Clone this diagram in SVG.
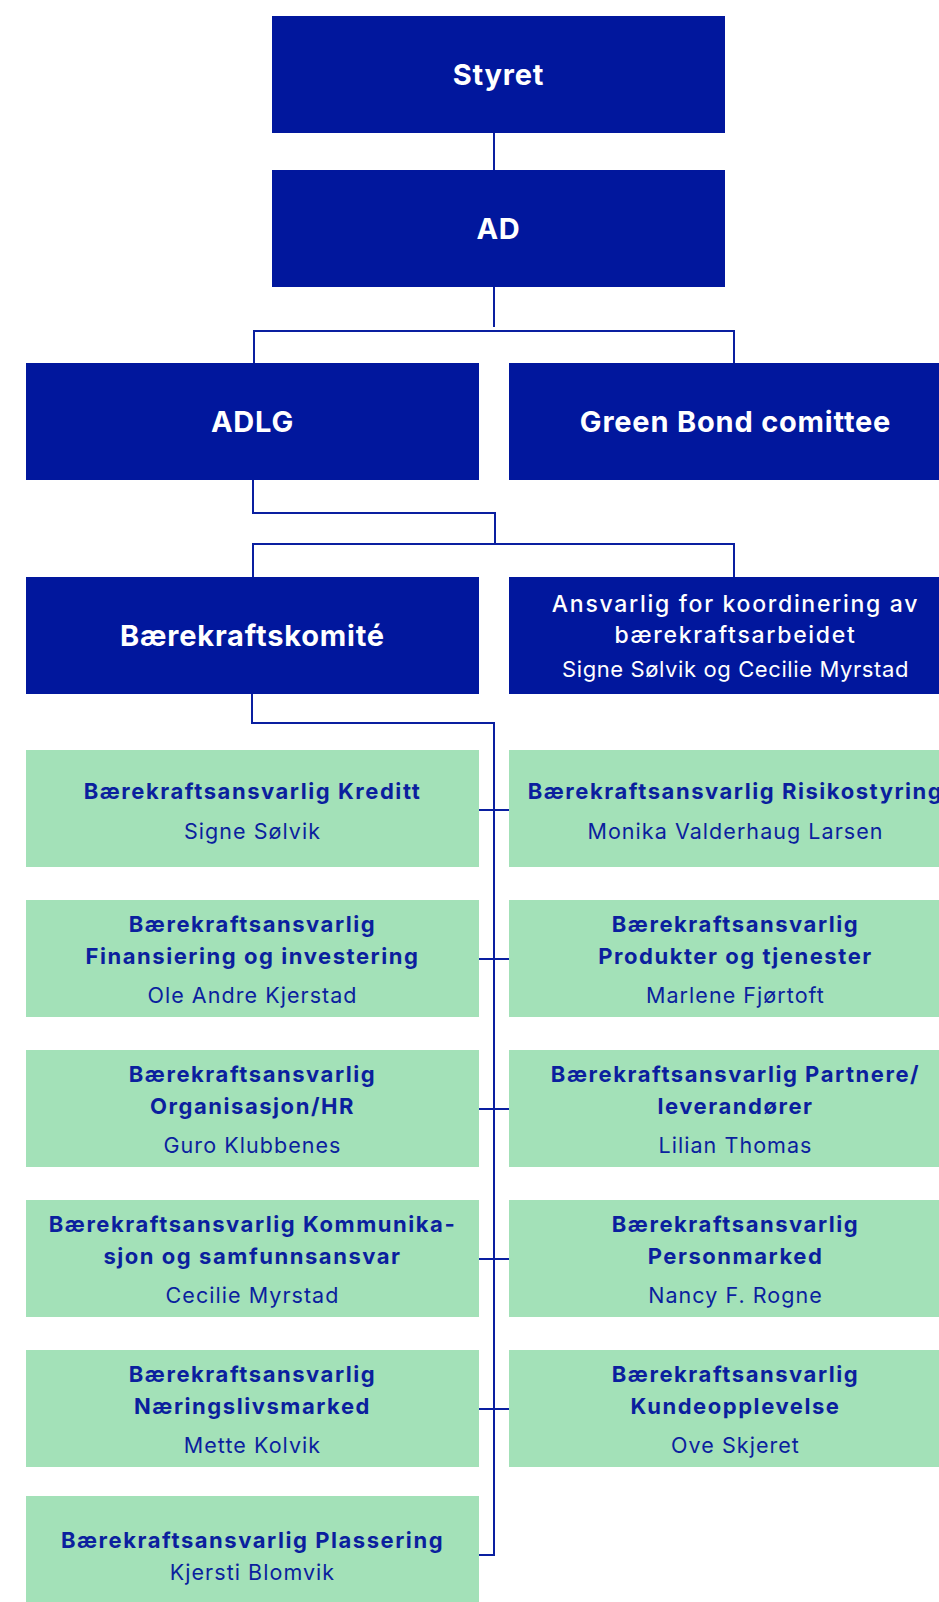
<svg xmlns="http://www.w3.org/2000/svg" width="939" height="1602" viewBox="0 0 939 1602">
<style>
.bb{fill:#01179d}
.gb{fill:#a3e1b8}
.ln{fill:none;stroke:#0a1fa0;stroke-width:2}
text{font-family:Inter,"Liberation Sans",sans-serif;text-anchor:middle}
.bt{fill:#fff;font-size:29px;font-weight:700;letter-spacing:0.8px}
.bm{fill:#fff;font-size:23px;font-weight:500;letter-spacing:1.7px}
.bs{fill:#fff;font-size:22px;font-weight:400;letter-spacing:0.6px}
.gt{fill:#0b1f9e;font-size:22px;font-weight:700;letter-spacing:1.55px}
.gs{fill:#0b1f9e;font-size:21.5px;font-weight:400;letter-spacing:1.05px}
</style>
<rect width="939" height="1602" fill="#fff"/>
<g id="connectors" class="ln">
<path d="M494 133V170"/>
<path d="M494 287V327"/>
<path d="M254 363V331H734V363"/>
<path d="M253 480V513H495V544"/>
<path d="M253 577V544H734V577"/>
<path d="M252 694V723H494V1555H479"/>
<path d="M479 810H509M479 959H509M479 1109H509M479 1259H509M479 1409H509"/>
</g>
<g id="styret"><rect class="bb" x="272" y="16" width="453" height="117"/><text class="bt" x="498.5" y="85">Styret</text></g>
<g id="ad"><rect class="bb" x="272" y="170" width="453" height="117"/><text class="bt" x="498.5" y="239">AD</text></g>
<g id="adlg"><rect class="bb" x="26" y="363" width="453" height="117"/><text class="bt" x="252.5" y="432">ADLG</text></g>
<g id="greenbond"><rect class="bb" x="509" y="363" width="453" height="117"/><text class="bt" x="735.5" y="432">Green Bond comittee</text></g>
<g id="komite"><rect class="bb" x="26" y="577" width="453" height="117"/><text class="bt" x="252.5" y="646">Bærekraftskomité</text></g>
<g id="ansvarlig"><rect class="bb" x="509" y="577" width="453" height="117"/><text class="bm" x="735.5" y="612">Ansvarlig for koordinering av</text><text class="bm" x="735.5" y="643">bærekraftsarbeidet</text><text class="bs" x="735.5" y="677">Signe Sølvik og Cecilie Myrstad</text></g>

<g id="kreditt"><rect class="gb" x="26" y="750" width="453" height="117"/><text class="gt" x="252.5" y="799">Bærekraftsansvarlig Kreditt</text><text class="gs" x="252.5" y="839">Signe Sølvik</text></g>
<g id="risiko"><rect class="gb" x="509" y="750" width="453" height="117"/><text class="gt" x="735.5" y="799">Bærekraftsansvarlig Risikostyring</text><text class="gs" x="735.5" y="839">Monika Valderhaug Larsen</text></g>

<g id="finansiering"><rect class="gb" x="26" y="900" width="453" height="117"/><text class="gt" x="252.5" y="932">Bærekraftsansvarlig</text><text class="gt" x="252.5" y="964">Finansiering og investering</text><text class="gs" x="252.5" y="1003">Ole Andre Kjerstad</text></g>
<g id="produkter"><rect class="gb" x="509" y="900" width="453" height="117"/><text class="gt" x="735.5" y="932">Bærekraftsansvarlig</text><text class="gt" x="735.5" y="964">Produkter og tjenester</text><text class="gs" x="735.5" y="1003">Marlene Fjørtoft</text></g>

<g id="organisasjon"><rect class="gb" x="26" y="1050" width="453" height="117"/><text class="gt" x="252.5" y="1082">Bærekraftsansvarlig</text><text class="gt" x="252.5" y="1114">Organisasjon/HR</text><text class="gs" x="252.5" y="1153">Guro Klubbenes</text></g>
<g id="partnere"><rect class="gb" x="509" y="1050" width="453" height="117"/><text class="gt" x="735.5" y="1082">Bærekraftsansvarlig Partnere/</text><text class="gt" x="735.5" y="1114">leverandører</text><text class="gs" x="735.5" y="1153">Lilian Thomas</text></g>

<g id="kommunikasjon"><rect class="gb" x="26" y="1200" width="453" height="117"/><text class="gt" x="252.5" y="1232">Bærekraftsansvarlig Kommunika-</text><text class="gt" x="252.5" y="1264">sjon og samfunnsansvar</text><text class="gs" x="252.5" y="1303">Cecilie Myrstad</text></g>
<g id="personmarked"><rect class="gb" x="509" y="1200" width="453" height="117"/><text class="gt" x="735.5" y="1232">Bærekraftsansvarlig</text><text class="gt" x="735.5" y="1264">Personmarked</text><text class="gs" x="735.5" y="1303">Nancy F. Rogne</text></g>

<g id="naeringsliv"><rect class="gb" x="26" y="1350" width="453" height="117"/><text class="gt" x="252.5" y="1382">Bærekraftsansvarlig</text><text class="gt" x="252.5" y="1414">Næringslivsmarked</text><text class="gs" x="252.5" y="1453">Mette Kolvik</text></g>
<g id="kundeopplevelse"><rect class="gb" x="509" y="1350" width="453" height="117"/><text class="gt" x="735.5" y="1382">Bærekraftsansvarlig</text><text class="gt" x="735.5" y="1414">Kundeopplevelse</text><text class="gs" x="735.5" y="1453">Ove Skjeret</text></g>

<g id="plassering"><rect class="gb" x="26" y="1496" width="453" height="120"/><text class="gt" x="252.5" y="1548">Bærekraftsansvarlig Plassering</text><text class="gs" x="252.5" y="1580">Kjersti Blomvik</text></g>
</svg>
